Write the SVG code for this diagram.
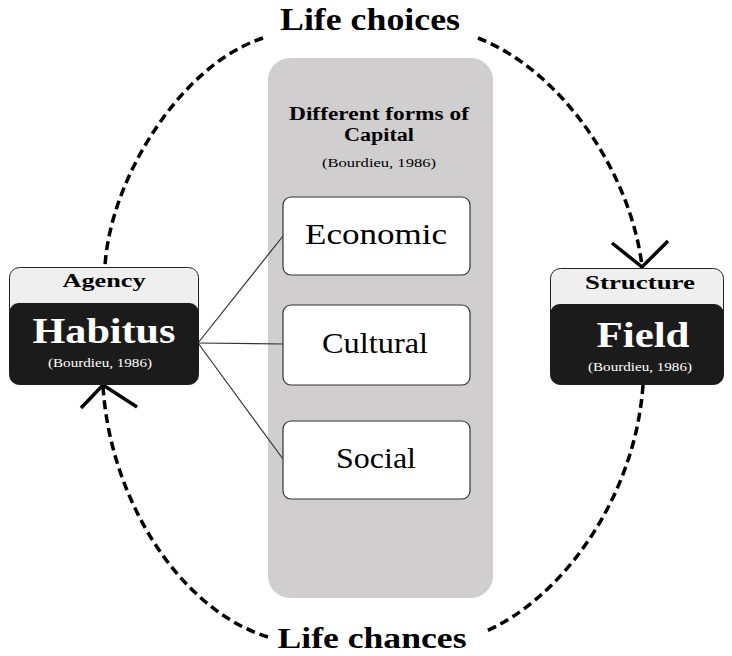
<svg xmlns="http://www.w3.org/2000/svg" width="732" height="656" viewBox="0 0 732 656">
<style>
.serif{font-family:"Liberation Serif","DejaVu Serif",serif;}
.bold{font-weight:bold;}
.dash{fill:none;stroke:#000;stroke-width:3.5;stroke-dasharray:9,5;}
.head{fill:none;stroke:#000;stroke-width:3.5;}
.link{stroke:#333;stroke-width:1.2;fill:none;}
.cap{fill:#fff;stroke:#333;stroke-width:1.2;}
</style>
<rect width="732" height="656" fill="#fff"/>
<g id="panel">
<rect x="268" y="58" width="225" height="540" rx="22" fill="#d0cecf"/>
<text class="serif bold" x="379" y="120" font-size="18" text-anchor="middle" textLength="180" lengthAdjust="spacingAndGlyphs">Different forms of</text>
<text class="serif bold" x="379" y="141" font-size="18" text-anchor="middle" textLength="70" lengthAdjust="spacingAndGlyphs">Capital</text>
<text class="serif" x="379" y="167" font-size="12.5" text-anchor="middle" textLength="114" lengthAdjust="spacingAndGlyphs">(Bourdieu, 1986)</text>
</g>
<g id="connectors">
<line class="link" x1="198" y1="343" x2="283" y2="236"/>
<line class="link" x1="198" y1="343" x2="283" y2="344"/>
<line class="link" x1="198" y1="343" x2="283" y2="459"/>
<path class="dash" d="M263,38 C180,65 110,180 105,266"/>
<path class="dash" d="M478,38 C560,70 630,170 642,266"/>
<polyline class="head" points="612,243 642,267 668,241"/>
<path class="dash" d="M643,385 C635,500 560,600 484,632"/>
<path class="dash" d="M268,637 C180,610 110,500 103,386"/>
<polyline class="head" points="81,408 103,385 137,407"/>
</g>
<g id="economic">
<rect class="cap" x="283" y="197" width="187" height="78" rx="8"/>
<text class="serif" x="376" y="244" font-size="30" text-anchor="middle" textLength="142" lengthAdjust="spacingAndGlyphs">Economic</text>
</g>
<g id="cultural">
<rect class="cap" x="283" y="305" width="187" height="80" rx="8"/>
<text class="serif" x="375" y="353" font-size="30" text-anchor="middle" textLength="106" lengthAdjust="spacingAndGlyphs">Cultural</text>
</g>
<g id="social">
<rect class="cap" x="283" y="421" width="187" height="78" rx="8"/>
<text class="serif" x="376" y="468" font-size="30" text-anchor="middle" textLength="80" lengthAdjust="spacingAndGlyphs">Social</text>
</g>
<g id="habitus">
<rect x="9.5" y="267.5" width="189" height="117" rx="10" fill="#efefef" stroke="#222" stroke-width="1"/>
<rect x="9.5" y="303" width="189" height="81.5" rx="9" fill="#1b1b1b"/>
<text class="serif bold" x="104" y="287" font-size="19" text-anchor="middle" textLength="83" lengthAdjust="spacingAndGlyphs">Agency</text>
<text class="serif bold" x="104" y="343" font-size="36" text-anchor="middle" fill="#fff" textLength="143" lengthAdjust="spacingAndGlyphs">Habitus</text>
<text class="serif" x="100" y="367" font-size="12" text-anchor="middle" fill="#fff" textLength="104" lengthAdjust="spacingAndGlyphs">(Bourdieu, 1986)</text>
</g>
<g id="field">
<rect x="550.5" y="268.5" width="173" height="116" rx="10" fill="#efefef" stroke="#222" stroke-width="1"/>
<rect x="550.5" y="304" width="173" height="80.5" rx="9" fill="#1b1b1b"/>
<text class="serif bold" x="640" y="289" font-size="19" text-anchor="middle" textLength="110" lengthAdjust="spacingAndGlyphs">Structure</text>
<text class="serif bold" x="643" y="347" font-size="36" text-anchor="middle" fill="#fff" textLength="93" lengthAdjust="spacingAndGlyphs">Field</text>
<text class="serif" x="640" y="371" font-size="12" text-anchor="middle" fill="#fff" textLength="104" lengthAdjust="spacingAndGlyphs">(Bourdieu, 1986)</text>
</g>
<g id="labels">
<text class="serif bold" x="370" y="30" font-size="31" text-anchor="middle" textLength="180" lengthAdjust="spacingAndGlyphs">Life choices</text>
<text class="serif bold" x="372" y="648" font-size="29" text-anchor="middle" textLength="189" lengthAdjust="spacingAndGlyphs">Life chances</text>
</g>
</svg>
